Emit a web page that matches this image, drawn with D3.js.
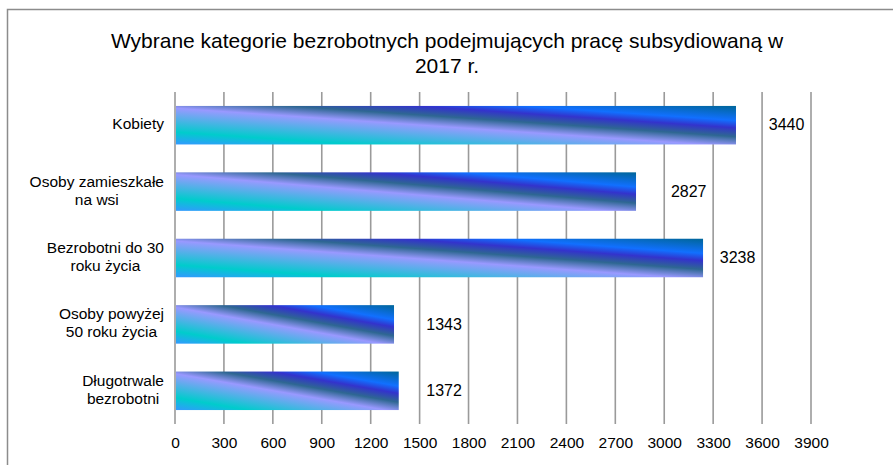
<!DOCTYPE html>
<html>
<head>
<meta charset="utf-8">
<script src="https://cdn.jsdelivr.net/npm/d3@7"></script>
<style>
  body { margin: 0; background: #fff; }
  svg text { font-family: "Liberation Sans", Arial, sans-serif; fill: #000; }
</style>
</head>
<body>
<div id="chart"></div>
<script>
"use strict"

// data
var categories = [
  "Kobiety",
  "Osoby zamieszkałe\nna wsi",
  "Bezrobotni do 30\nroku życia",
  "Osoby powyżej\n50 roku życia",
  "Długotrwale\nbezrobotni"
];
var values = [3440, 2827, 3238, 1343, 1372];
var xTicks = [0, 300, 600, 900, 1200, 1500, 1800, 2100, 2400, 2700, 3000, 3300, 3600, 3900];
var titleLines = ["Wybrane kategorie bezrobotnych podejmujących pracę subsydiowaną w", "2017 r."];

var width = 893,
  height = 465,
  plotLeft = 175,
  plotRight = 811,
  plotTop = 92,
  plotBottom = 424;

var svg = d3.select("#chart").append("svg")
  .attr("width", width)
  .attr("height", height);

// gradient fill ("peacock" style)
var grad = svg.append("defs").append("linearGradient")
  .attr("id", "barGrad")
  .attr("x1", 0).attr("y1", 1)
  .attr("x2", 1).attr("y2", 0);
[[0, "#3399FF"], [0.16, "#00CCCC"], [0.47, "#9999FF"], [0.6, "#2E6792"],
 [0.715, "#3333CC"], [0.81, "#1170FF"], [1, "#006699"]].forEach(function(s){
  grad.append("stop").attr("offset", s[0]).attr("stop-color", s[1]);
});

// outer border
svg.append("rect")
  .attr("x", 7.5).attr("y", 9.5)
  .attr("width", width + 20).attr("height", height + 20)
  .style("fill", "none")
  .style("stroke", "#8c8c8c")
  .style("stroke-width", "1.5px");

// title
svg.append("text")
  .attr("text-anchor", "middle")
  .style("font-size", "21px")
  .selectAll("tspan")
  .data(titleLines)
  .enter().append("tspan")
  .attr("x", 447)
  .attr("y", function(d, i){ return 48 + i * 25; })
  .text(function(d){ return d; });

var x = d3.scaleLinear()
  .domain([0, 3900])
  .range([plotLeft, plotRight]);

var y = d3.scaleBand()
  .domain(categories)
  .range([plotTop, plotBottom])
  .paddingInner(0.42)
  .paddingOuter(0.21);

// gridlines
svg.append("g")
  .selectAll("line")
  .data(xTicks)
  .enter().append("line")
  .attr("x1", function(d){ return x(d); })
  .attr("x2", function(d){ return x(d); })
  .attr("y1", plotTop)
  .attr("y2", plotBottom)
  .style("stroke", "#9a9a9a")
  .style("stroke-width", "1.6px");

// x axis labels
var xAxis = d3.axisBottom(x)
  .tickValues(xTicks)
  .tickFormat(d3.format("d"))
  .tickSize(0)
  .tickPadding(0);

var gx = svg.append("g")
  .attr("transform", "translate(0,0)")
  .call(xAxis);
gx.select(".domain").remove();
gx.selectAll("text")
  .attr("y", 448)
  .attr("dy", null)
  .attr("fill", "#000")
  .style("font-family", "'Liberation Sans', Arial, sans-serif")
  .style("font-size", "15.5px");

// bars
svg.append("g")
  .selectAll("rect")
  .data(values)
  .enter().append("rect")
  .attr("x", x(0) + 1)
  .attr("y", function(d, i){ return y(categories[i]); })
  .attr("width", function(d){ return x(d) - x(0) - 1; })
  .attr("height", y.bandwidth())
  .style("fill", "url(#barGrad)");

// value labels, centred in the grid cell after the bar end
svg.append("g")
  .selectAll("text")
  .data(values)
  .enter().append("text")
  .attr("x", function(d){ return x(Math.ceil(d / 300) * 300 + 150); })
  .attr("y", function(d, i){ return y(categories[i]) + y.bandwidth() / 2 + 1; })
  .attr("text-anchor", "middle")
  .attr("dominant-baseline", "middle")
  .style("font-size", "16px")
  .text(function(d){ return d; });

// category labels: block right aligned, lines centred in block
var labelRight = 164, lineH = 18;
categories.forEach(function(c, i){
  var lines = c.split("\n");
  var cy = y(c) + y.bandwidth() / 2;
  var g = svg.append("g");
  var texts = lines.map(function(l, j){
    return g.append("text")
      .attr("y", cy + (j - (lines.length - 1) / 2) * lineH)
      .attr("dominant-baseline", "middle")
      .attr("text-anchor", "middle")
      .style("font-size", "15.5px")
      .text(l);
  });
  var w = d3.max(texts, function(t){ return t.node().getComputedTextLength(); });
  texts.forEach(function(t){ t.attr("x", labelRight - w / 2); });
});
</script>
</body>
</html>
